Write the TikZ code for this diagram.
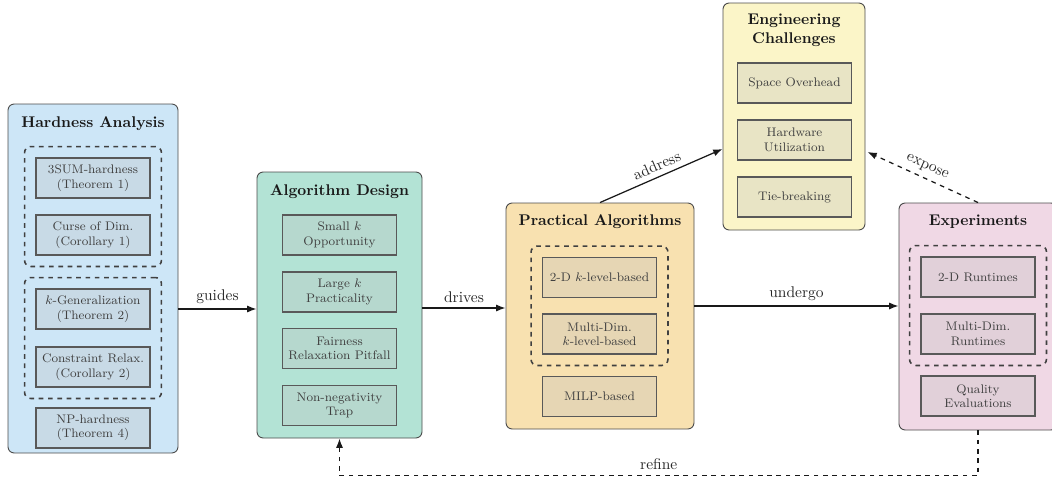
\documentclass[tikz,border=0pt]{standalone}
\usepackage{tikz}
\usetikzlibrary{calc,fit,arrows.meta}

\definecolor{hardBlue}{RGB}{205,230,247}
\definecolor{algoGreen}{RGB}{179,227,213}
\definecolor{practOrange}{RGB}{248,225,176}
\definecolor{engYellow}{RGB}{251,245,200}
\definecolor{expPink}{RGB}{240,216,229}

\begin{document}
\begin{tikzpicture}[x=0.645pt,y=-0.645pt,
    stage/.style={draw=black!70,rounded corners=4pt,line width=0.6pt},
    stagetitle/.style={font=\bfseries,align=center,text=black!90},
    item/.style={draw=black!65,line width=0.8pt,fill=gray!50,fill opacity=0.3,
      text opacity=1,text=black!75,align=center,minimum width=114*0.645pt,
      minimum height=40*0.645pt,inner sep=1pt,
      font=\fontsize{8}{9.3}\selectfont},
    group/.style={draw=black!75,dashed,line width=1pt,rounded corners=4pt,inner sep=7pt},
    flow/.style={-{Latex[length=6pt,width=4.5pt]},line width=0.8pt,black!90},
    lbl/.style={font=\normalsize,text=black!85}]
  \useasboundingbox (0,0) rectangle (1052,478);

  %% Building the stage boxes
  \foreach \n/\x/\y/\w/\h/\c in {HA/93/278.5/170/349/hardBlue, AD/339.5/305/165/266/algoGreen,
                                 PA/600/316/188/226/practOrange, EC/794/116.5/142/227/engYellow,
                                 EX/978/316.5/158/227/expPink}
  {
    \node[stage,fill=\c,minimum width=\w*0.645pt,minimum height=\h*0.645pt] (\n) at (\x,\y) {};
  }

  %% Stage titles
  \node[stagetitle] (HAtitle) at (93,124) {Hardness Analysis};
  \node[stagetitle] (ADtitle) at (339.5,192) {Algorithm Design};
  \node[stagetitle] (PAtitle) at (600,222) {Practical Algorithms};
  \node[stagetitle] (ECtitle) at (794,30) {Engineering\\Challenges};
  \node[stagetitle] (EXtitle) at (978,222) {Experiments};

  %% Items inside the stages
  \foreach \n/\y/\t in {1/178/{3SUM-hardness\\(Theorem 1)}, 2/235/{Curse of Dim.\\(Corollary 1)},
                        3/309/{$k$-Generalization\\(Theorem 2)}, 4/367/{Constraint Relax.\\(Corollary 2)},
                        5/428/{NP-hardness\\(Theorem 4)}}
  {
    \node[item] (HA\n) at (93,\y) {\t};
  }
  \foreach \n/\y/\t in {1/235/{Small $k$\\Opportunity}, 2/292/{Large $k$\\Practicality},
                        3/348.5/{Fairness\\Relaxation Pitfall}, 4/405.5/{Non-negativity\\Trap}}
  {
    \node[item] (AD\n) at (339.5,\y) {\t};
  }
  \foreach \n/\y/\t in {1/277.5/{2-D $k$-level-based}, 2/334/{Multi-Dim.\\$k$-level-based},
                        3/396.5/{MILP-based}}
  {
    \node[item] (PA\n) at (599.5,\y) {\t};
  }
  \foreach \n/\y/\t in {1/83/{Space Overhead}, 2/140/{Hardware\\Utilization}, 3/197/{Tie-breaking}}
  {
    \node[item] (EC\n) at (794.5,\y) {\t};
  }
  \foreach \n/\y/\t in {1/277/{2-D Runtimes}, 2/334/{Multi-Dim.\\Runtimes}, 3/396/{Quality\\Evaluations}}
  {
    \node[item] (EX\n) at (978,\y) {\t};
  }

  %% Dashed groups
  \node[group,fit=(HA1)(HA2)] (HAgroupA) {};
  \node[group,fit=(HA3)(HA4)] (HAgroupB) {};
  \node[group,fit=(PA1)(PA2)] (PAgroup) {};
  \node[group,fit=(EX1)(EX2)] (EXgroup) {};

  %% Flow between the stages
  \draw[flow] (HA3 -| HA.east) -- node[lbl,above] {guides} (HA3 -| AD.west);
  \draw[flow] (AD.east |- 0,308) -- node[lbl,above] {drives} (PA.west |- 0,308);
  \draw[flow] (PA.east |- 0,306) -- node[lbl,above] {undergo} (EX.west |- 0,306);
  \draw[flow] (PA.north) -- node[lbl,above,sloped] {address} ($(EC.west)+(0,32.5)$);
  \draw[flow,dashed] (EX.north) -- node[lbl,above,sloped] {expose} ($(EC.east)+(2,35.5)$);
  \draw[flow,dashed] (EX.south) -- ++(0,45) -| node[lbl,above,pos=0.25] {refine} (AD.south);

\end{tikzpicture}
\end{document}
